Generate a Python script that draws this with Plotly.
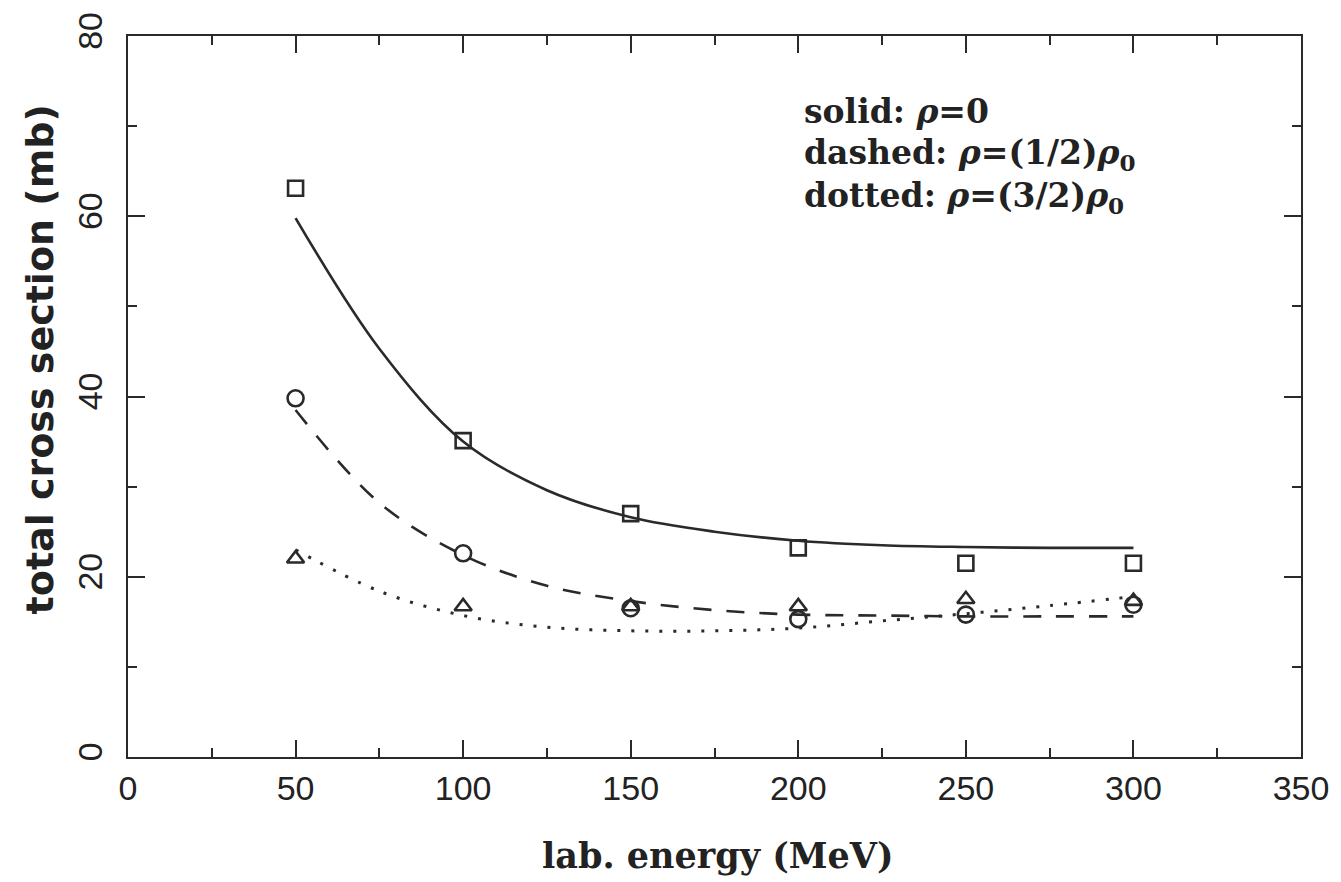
import plotly.graph_objects as go

# ---- data ----
energy_pts = [50, 100, 150, 200, 250, 300]
squares = [63.1, 35.1, 27.0, 23.2, 21.5, 21.5]
circles = [39.8, 22.6, 16.5, 15.3, 15.8, 16.9]
triangles = [22.0, 16.7, 16.7, 16.7, 17.5, 17.3]

energy_curve = [50, 75, 100, 125, 150, 175, 200, 225, 250, 275, 300]
solid_curve = [59.8, 45.3, 35.0, 29.6, 26.6, 25.0, 24.0, 23.5, 23.3, 23.2, 23.2]
dashed_curve = [38.5, 28.2, 22.4, 19.0, 17.3, 16.3, 15.8, 15.7, 15.6, 15.6, 15.6]
dotted_curve = [23.0, 18.4, 15.7, 14.4, 14.0, 14.0, 14.3, 15.1, 15.9, 16.8, 17.8]

x_ticks = [0, 50, 100, 150, 200, 250, 300, 350]
y_ticks = [0, 20, 40, 60, 80]

legend_lines = [
    "solid: <i>ρ</i>=0",
    "dashed: <i>ρ</i>=(1/2)<i>ρ</i><sub>0</sub>",
    "dotted: <i>ρ</i>=(3/2)<i>ρ</i><sub>0</sub>",
]

INK = "#222222"
LINE = "#2a2a2a"

# figure geometry (pixels)
L, R, T, B = 128, 39, 30, 125
W, H = 1341, 882
pw, ph = W - L - R, H - T - B


def px(xp):
    return (xp - L) / pw


def py(yp):
    return 1 - (yp - T) / ph


fig = go.Figure()
fig.add_trace(go.Scatter(x=energy_curve, y=solid_curve, mode="lines",
                         line=dict(color=LINE, width=2.6, shape="spline", smoothing=1.0)))
fig.add_trace(go.Scatter(x=energy_curve, y=dashed_curve, mode="lines",
                         line=dict(color=LINE, width=2.6, dash="18px,15px", shape="spline", smoothing=1.0)))
fig.add_trace(go.Scatter(x=energy_curve, y=dotted_curve, mode="lines",
                         line=dict(color=LINE, width=3, dash="3px,11px", shape="spline", smoothing=1.0)))

fig.add_trace(go.Scatter(x=energy_pts, y=squares, mode="markers",
                         marker=dict(symbol="square-open", size=15, color=LINE, line=dict(width=2.6))))
fig.add_trace(go.Scatter(x=energy_pts, y=circles, mode="markers",
                         marker=dict(symbol="circle-open", size=16, color=LINE, line=dict(width=2.6))))
fig.add_trace(go.Scatter(x=energy_pts, y=triangles, mode="markers",
                         marker=dict(symbol="triangle-up-open", size=15, color=LINE, line=dict(width=2.6))))

legend_bottoms = [128, 173, 217]
for t, yb in zip(legend_lines, legend_bottoms):
    fig.add_annotation(x=px(803), y=py(yb), xref="paper", yref="paper",
                       text=t, showarrow=False, xanchor="left", yanchor="bottom",
                       font=dict(family="DejaVu Serif", size=33, color=INK, weight="bold"))

axis_common = dict(showline=True, linecolor=LINE, linewidth=2.4, mirror="allticks",
                   ticks="inside", ticklen=17, tickwidth=2, tickcolor=LINE,
                   showgrid=False, zeroline=False,
                   tickfont=dict(family="Liberation Sans Narrow, Liberation Sans", size=34, color=INK))

fig.update_xaxes(range=[0, 350], tickvals=x_ticks,
                 minor=dict(dtick=25, ticklen=9, ticks="inside", tickwidth=2, tickcolor=LINE, showgrid=False),
                 **axis_common)
fig.update_yaxes(range=[0, 80], tickvals=y_ticks, tickangle=-90, ticklabelstandoff=10,
                 minor=dict(dtick=10, ticklen=9, ticks="inside", tickwidth=2, tickcolor=LINE, showgrid=False),
                 **axis_common)

fig.add_annotation(x=px(719), y=py(856), xref="paper", yref="paper",
                   text="lab. energy (MeV)", showarrow=False,
                   xanchor="center", yanchor="middle",
                   font=dict(family="DejaVu Serif", size=35, color=INK, weight="bold"))
fig.add_annotation(x=px(40), y=py(356), xref="paper", yref="paper",
                   text="total cross section (mb)", showarrow=False, textangle=-90,
                   xanchor="center", yanchor="middle",
                   font=dict(family="DejaVu Sans", size=38, color=INK, weight="bold"))

fig.update_layout(width=W, height=H, margin=dict(l=L, r=R, t=T, b=B),
                  paper_bgcolor="white", plot_bgcolor="white", showlegend=False)

fig.write_html("out.html")
